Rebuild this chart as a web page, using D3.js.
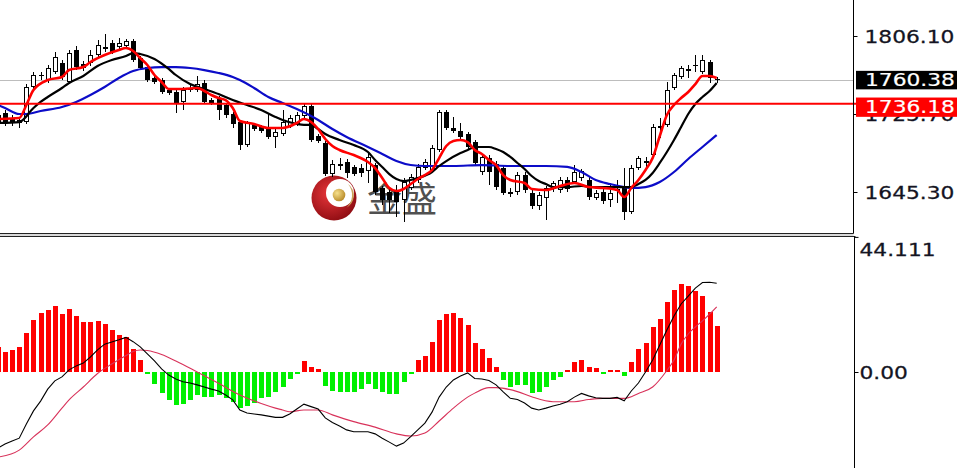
<!DOCTYPE html>
<html><head><meta charset="utf-8">
<script src="https://cdn.jsdelivr.net/npm/d3@7"></script>
<style>html,body{margin:0;padding:0;background:#fff;overflow:hidden}</style>
</head><body>
<script>
// ---------------- DATA ----------------
const priceTicks = [1806.10, 1725.70, 1645.30];
const lastPrice = 1760.38;
const levelPrice = 1736.18;
const macdTicks = [44.111, 0];

const open = [1724.7,1726.7,1721.6,1716.4,1717.4,1753.5,1764.9,1760.7,1769.0,1778.3,
1758.7,1791.7,1777.2,1778.3,1786.5,1792.7,1798.9,1794.8,1795.8,1800.9,
1783.4,1774.1,1762.8,1760.7,1750.4,1748.4,1738.1,1750.4,1750.4,1757.6,
1740.1,1742.2,1735.0,1725.7,1717.4,1693.7,1714.4,1712.3,1711.3,1702.0,
1705.1,1713.3,1715.4,1723.6,1733.9,1703.0,1695.8,1663.8,1672.1,1676.2,
1671.1,1670.0,1666.9,1673.1,1649.4,1645.3,1647.4,1637.0,1649.4,1657.7,
1670.0,1668.0,1688.6,1727.7,1711.3,1708.2,1705.1,1696.8,1665.9,1680.3,
1674.1,1670.0,1645.3,1645.3,1662.8,1644.3,1630.9,1639.1,1648.4,1647.4,
1657.7,1655.6,1659.7,1657.7,1639.1,1645.3,1637.0,1646.3,1649.4,1624.7,
1670.0,1677.2,1683.4,1711.3,1714.4,1752.5,1763.8,1770.0,1775.2,1769.0,
1779.3,1761.8];
const high = [1727.7,1729.8,1724.7,1722.6,1756.6,1769.0,1769.0,1776.2,1789.6,1781.4,
1791.7,1795.8,1780.3,1791.7,1802.0,1808.2,1802.0,1804.0,1803.0,1803.0,
1785.5,1776.2,1764.9,1762.8,1752.5,1750.4,1753.5,1755.6,1764.9,1760.7,
1742.2,1744.2,1737.0,1727.7,1719.5,1718.5,1716.4,1714.4,1726.7,1712.3,
1729.8,1724.7,1727.7,1737.0,1736.0,1705.1,1697.9,1678.3,1680.3,1679.3,
1673.1,1674.1,1686.5,1675.2,1651.5,1650.4,1652.5,1659.7,1663.8,1674.1,
1679.3,1693.7,1729.8,1729.8,1722.6,1716.4,1707.1,1698.9,1684.5,1683.4,
1677.2,1672.1,1649.4,1665.9,1665.9,1647.4,1645.3,1651.5,1656.6,1660.7,
1660.7,1673.1,1669.0,1660.7,1647.4,1648.4,1654.6,1657.7,1670.0,1673.1,
1682.4,1681.4,1715.4,1721.6,1758.7,1768.0,1775.2,1776.2,1786.5,1786.5,
1781.4,1763.8];
const low = [1714.4,1713.3,1713.3,1711.3,1715.4,1751.5,1760.7,1757.6,1766.9,1760.7,
1756.6,1771.0,1770.0,1775.2,1784.4,1789.6,1787.5,1792.7,1793.7,1779.3,
1771.0,1758.7,1756.6,1746.3,1745.3,1726.7,1729.8,1748.4,1748.4,1736.0,
1735.0,1719.5,1721.6,1711.3,1688.6,1691.7,1708.2,1706.1,1699.9,1690.6,
1703.0,1711.3,1713.3,1721.6,1696.8,1695.8,1661.8,1660.7,1668.0,1659.7,
1661.8,1660.7,1654.6,1642.2,1631.9,1623.6,1619.5,1614.4,1647.4,1654.6,
1668.0,1665.9,1686.5,1709.2,1706.1,1699.9,1688.6,1673.1,1662.8,1652.5,
1647.4,1642.2,1640.1,1642.2,1644.3,1627.8,1626.7,1616.4,1645.3,1644.3,
1645.3,1653.5,1656.6,1637.0,1637.0,1632.9,1629.8,1634.0,1616.4,1622.6,
1668.0,1671.1,1681.4,1700.9,1712.3,1750.4,1761.8,1762.8,1769.0,1766.9,
1757.6,1757.6];
const close = [1717.4,1716.4,1717.4,1719.5,1753.5,1765.9,1765.9,1773.1,1784.4,1763.8,
1788.6,1774.1,1773.1,1786.5,1796.8,1794.8,1789.6,1798.9,1800.9,1781.4,
1773.1,1760.7,1758.7,1748.4,1747.3,1737.0,1750.4,1752.5,1756.6,1738.1,
1737.0,1729.8,1724.7,1715.4,1693.7,1716.4,1710.2,1708.2,1702.0,1707.1,
1717.4,1721.6,1724.7,1733.9,1698.9,1697.9,1663.8,1674.1,1674.1,1664.9,
1663.8,1664.9,1681.4,1645.3,1637.0,1637.0,1635.0,1655.6,1660.7,1671.1,
1676.2,1690.6,1727.7,1711.3,1708.2,1702.0,1691.7,1675.2,1681.4,1665.9,
1650.4,1644.3,1643.2,1662.8,1647.4,1630.9,1642.2,1649.4,1654.6,1657.7,
1648.4,1665.9,1666.9,1640.1,1644.3,1636.0,1644.3,1648.4,1624.7,1670.0,
1680.3,1675.2,1712.3,1713.3,1750.4,1765.9,1773.1,1772.1,1776.2,1781.4,
1762.8,1760.38];

// moving averages (bar index, value)
const maFastIdx = [0,3,4,5,7,9,10,12,13,15,17,18,19,20,21,22,23,24,26,28,29,30,31,32,33,34,36,38,40,42,43,44,45,46,47,48,50,52,53,54,55,56,57,58,59,60,61,62,63,64,65,66,67,68,69,70,71,72,74,75,77,79,81,83,85,87,88,89,90,91,92,93,94,95,96,97,98,99,100,101];
const maFastVal = [1720.5,1721.6,1735.0,1750.4,1760.7,1763.8,1771.0,1774.1,1779.3,1786.5,1791.7,1793.7,1790.6,1783.4,1776.2,1765.9,1758.7,1751.5,1751.5,1752.5,1749.4,1745.3,1742.2,1740.1,1731.9,1718.5,1715.4,1711.3,1711.3,1716.4,1720.5,1717.4,1710.2,1699.9,1692.7,1688.6,1683.4,1676.2,1670.0,1659.7,1649.4,1646.3,1648.4,1653.5,1658.7,1662.8,1668.0,1680.3,1692.7,1697.9,1698.9,1696.8,1688.6,1684.5,1678.3,1673.1,1662.8,1657.7,1654.6,1648.4,1647.4,1651.5,1654.6,1650.4,1649.4,1647.4,1640.1,1649.4,1657.7,1668.0,1680.3,1703.0,1724.7,1735.0,1742.2,1748.4,1756.6,1764.9,1764.9,1762.8];
const maMidIdx = [0,3,5,6,7,9,10,12,14,16,18,19,20,22,24,25,27,29,31,33,35,37,39,40,42,43,44,45,46,48,50,52,53,54,55,56,57,58,59,61,62,63,65,66,67,69,70,71,72,73,74,75,76,77,78,80,82,84,86,88,89,90,91,92,93,94,95,96,97,98,99,100,101];
const maMidVal = [1716.4,1717.4,1731.9,1738.1,1743.2,1752.5,1757.6,1764.9,1775.2,1781.4,1785.5,1788.6,1787.5,1782.4,1772.1,1765.9,1756.6,1751.5,1746.3,1740.1,1735.0,1729.8,1722.6,1719.5,1715.4,1714.4,1714.4,1710.2,1705.1,1698.9,1693.7,1686.5,1678.3,1671.1,1663.8,1658.7,1656.6,1657.7,1659.7,1665.9,1672.1,1677.2,1685.5,1688.6,1691.7,1691.7,1689.6,1686.5,1681.4,1675.2,1669.0,1661.8,1656.6,1653.5,1650.4,1650.4,1651.5,1650.4,1650.4,1650.4,1650.4,1653.5,1657.7,1664.9,1675.2,1686.5,1698.9,1712.3,1725.7,1736.0,1743.2,1749.4,1757.6];
const maSlowIdx = [0,1,3,4,6,9,11,13,15,17,19,21,23,25,27,29,31,33,34,36,38,40,42,44,45,47,49,52,54,56,58,60,64,68,72,77,80,82,84,86,88,89,91,93,95,97,99,101];
const maSlowVal = [1735.0,1731.9,1725.7,1725.7,1728.8,1732.9,1738.1,1745.3,1753.5,1762.8,1770.0,1773.1,1774.1,1774.1,1773.1,1771.0,1768.0,1763.8,1760.7,1752.5,1743.2,1737.0,1730.8,1723.6,1719.5,1710.2,1702.0,1691.7,1684.5,1677.2,1673.1,1672.1,1672.1,1673.1,1672.1,1672.1,1671.1,1665.9,1657.7,1653.5,1650.4,1649.4,1650.4,1655.6,1665.9,1679.3,1691.7,1704.0];

// MACD panel
const macdHist = [8.2,6.6,7.2,8.1,12.6,17.0,19.2,20.2,21.6,18.8,
20.5,18.3,16.2,16.2,16.7,15.6,13.7,12.1,11.3,7.5,
3.9,-0.7,-3.9,-7.0,-9.1,-10.8,-10.5,-9.1,-7.5,-8.1,
-8.1,-7.5,-8.6,-9.7,-11.9,-11.1,-10.0,-8.6,-8.1,-6.4,
-4.8,-2.3,-0.7,3.6,1.7,0.9,-4.5,-6.1,-6.4,-6.4,
-6.4,-5.6,-3.9,-5.6,-6.4,-7.2,-7.2,-3.4,-0.3,3.9,
5.2,9.9,17.0,18.9,19.4,17.7,15.3,9.4,7.5,4.5,
1.7,-2.6,-5.0,-4.2,-4.2,-6.8,-6.4,-4.8,-2.6,-1.5,
0.7,3.2,3.9,1.7,1.2,-0.2,0.7,0.3,-1.3,3.2,
7.5,9.4,14.6,17.2,22.8,26.8,28.7,28.2,26.5,24.8,
19.7,15.0];
const macdMain = [-24.8,-23.5,-22.5,-21.6,-17.0,-12.7,-9.5,-5.6,-2.9,-1.6,
0.7,2.0,2.9,4.9,7.2,9.1,9.8,10.5,11.3,9.9,
8.2,5.9,3.6,1.0,-1.0,-2.3,-3.2,-3.6,-4.2,-4.9,
-5.6,-6.2,-7.5,-9.1,-12.4,-13.4,-13.7,-14.0,-14.4,-14.8,
-14.8,-13.7,-12.1,-10.5,-11.3,-12.1,-15.0,-16.5,-17.6,-18.9,
-19.5,-19.5,-19.5,-20.2,-21.6,-22.9,-24.2,-23.2,-21.1,-18.9,
-16.7,-13.1,-8.2,-4.9,-2.6,-1.3,-0.3,-2.1,-2.3,-2.8,
-4.2,-6.5,-8.6,-9.0,-10.1,-11.8,-12.4,-11.8,-11.1,-10.5,
-9.7,-8.2,-7.0,-7.8,-8.4,-8.6,-8.6,-8.3,-9.4,-6.2,
-3.6,0.0,3.9,8.8,13.7,18.3,22.2,24.8,27.4,29.2,
29.3,29.0];
const signalIdx = [0,3,5,7,9,10,12,14,16,18,19,20,21,23,25,28,31,34,37,39,40,41,43,45,47,50,53,56,58,60,62,64,66,67,69,70,73,75,78,81,83,85,88,90,92,94,95,96,97,98,99,100,101];
const signalVal = [-27.8,-25.5,-21.2,-17.3,-11.8,-9.1,-4.9,-0.5,2.6,5.4,6.7,7.2,7.0,5.7,3.6,0,-3.7,-7.5,-10.3,-11.8,-12.4,-13.0,-12.4,-12.4,-14.0,-16.2,-18.0,-20.2,-20.9,-19.9,-16.0,-11.8,-8.2,-6.9,-5.1,-5.1,-6.4,-8.1,-9.7,-9.7,-9.0,-8.6,-8.6,-7.0,-4.9,0.5,3.9,9.1,12.4,14.7,16.7,18.9,21.3];

// ---------------- DRAW ----------------
const W = 957, H = 468;
const AX = 853.5, AX2 = 854.5;
const FONT = "'DejaVu Sans', Verdana, sans-serif";
const svg = d3.select("body").append("svg").attr("width", W).attr("height", H)
  .style("display","block").style("font-family", FONT);

const defs = svg.append("defs");
defs.append("clipPath").attr("id","clipMain").append("rect").attr("x",0).attr("y",0).attr("width",AX).attr("height",233);
defs.append("clipPath").attr("id","clipMacd").append("rect").attr("x",0).attr("y",238).attr("width",AX2).attr("height",H-238);
const rg = defs.append("radialGradient").attr("id","redG").attr("cx","40%").attr("cy","40%").attr("r","65%");
rg.append("stop").attr("offset","0%").attr("stop-color","#e8363a");
rg.append("stop").attr("offset","100%").attr("stop-color","#8e0c12");
const gg = defs.append("radialGradient").attr("id","goldG").attr("cx","35%").attr("cy","35%").attr("r","70%");
gg.append("stop").attr("offset","0%").attr("stop-color","#f6e08c");
gg.append("stop").attr("offset","100%").attr("stop-color","#b88a28");

const N = open.length;
const x = d3.scaleLinear().domain([0, N - 1]).range([-2.1, 716.7]);
const yP = d3.scaleLinear().domain([priceTicks[2], priceTicks[0]]).range([192, 36]);
const yM = d3.scaleLinear().domain([0, macdTicks[0]]).range([372, 236.9]);

// ---- main panel ----
const main = svg.append("g").attr("clip-path","url(#clipMain)");

// watermark logo
const logo = main.append("g").attr("transform","translate(334,198)");
logo.append("circle").attr("r",22.5).attr("fill","url(#redG)");
logo.append("circle").attr("cx",6).attr("cy",-5).attr("r",14).attr("fill","#fff");
logo.append("path").attr("d","M 14 -14 A 14 14 0 0 1 12 10 A 17 17 0 0 0 14 -14 Z").attr("fill","#c9a25a");
logo.append("circle").attr("cx",5).attr("cy",-3).attr("r",6.3).attr("fill","url(#goldG)");
main.append("text").attr("x",367).attr("y",212).text("金盛")
  .attr("font-family","'Noto Sans CJK SC', sans-serif").attr("font-size",35).attr("fill","#505050");

// horizontal reference line at last price
main.append("line").attr("x1",0).attr("x2",AX).attr("y1",Math.round(yP(lastPrice))+0.5).attr("y2",Math.round(yP(lastPrice))+0.5)
  .attr("stroke","#bdbdbd").attr("stroke-width",1);

// candles
const cg = main.append("g");
d3.range(N).forEach(i => {
  const xc = Math.round(x(i));
  const o = open[i], c = close[i];
  cg.append("line").attr("x1",xc+0.5).attr("x2",xc+0.5)
    .attr("y1",Math.round(yP(high[i]))).attr("y2",Math.round(yP(low[i])))
    .attr("stroke","#000").attr("stroke-width",1);
  const top = Math.round(yP(Math.max(o,c))), bot = Math.round(yP(Math.min(o,c)));
  if (bot - top < 2) {
    cg.append("line").attr("x1",xc-2).attr("x2",xc+3).attr("y1",top+0.5).attr("y2",top+0.5)
      .attr("stroke","#000").attr("stroke-width",1);
  } else if (c >= o) {
    cg.append("rect").attr("x",xc-1.5).attr("y",top+0.5).attr("width",4).attr("height",bot-top-1)
      .attr("fill","#fff").attr("stroke","#000").attr("stroke-width",1);
  } else {
    cg.append("rect").attr("x",xc-2).attr("y",top).attr("width",5).attr("height",bot-top).attr("fill","#000");
  }
});

// moving averages
const lineP = d3.line().x(d => x(d[0])).y(d => yP(d[1])).curve(d3.curveMonotoneX);
const zipper = (a, b) => a.map((v, k) => [v, b[k]]);
main.append("path").attr("d", lineP(zipper(maSlowIdx, maSlowVal))).attr("fill","none").attr("stroke","#0c0cc8").attr("stroke-width",2.2);
main.append("path").attr("d", lineP(zipper(maMidIdx, maMidVal))).attr("fill","none").attr("stroke","#000").attr("stroke-width",2.2);
main.append("path").attr("d", lineP(zipper(maFastIdx, maFastVal))).attr("fill","none").attr("stroke","#ff0000").attr("stroke-width",2.6);

// red level line
svg.append("line").attr("x1",0).attr("x2",858).attr("y1",yP(levelPrice)).attr("y2",yP(levelPrice))
  .attr("stroke","#ff0000").attr("stroke-width",2);

// ---- panel separators ----
svg.append("rect").attr("x",0).attr("y",234).attr("width",AX).attr("height",2.5).attr("fill","#d8d8d8");
svg.append("line").attr("x1",0).attr("x2",AX).attr("y1",233.5).attr("y2",233.5).attr("stroke","#222");
svg.append("line").attr("x1",0).attr("x2",AX2+1).attr("y1",236.5).attr("y2",236.5).attr("stroke","#222");

// price axis
const SX = 1.28;
const pAxis = svg.append("g").attr("transform",`translate(${AX},0)`)
  .call(d3.axisRight(yP).tickValues(priceTicks).tickFormat(d3.format(".2f")).tickSize(4).tickSizeOuter(0))
  .attr("font-family", FONT).attr("font-size", 17);
pAxis.select(".domain").attr("d","M0,0V233.5").attr("stroke","#000");
pAxis.selectAll(".tick line").attr("stroke","#000");
pAxis.selectAll(".tick text").attr("x", 11/SX).attr("dy","0.36em")
  .attr("transform",`scale(${SX},1)`).attr("fill","#141422").attr("text-anchor","start")
  .attr("stroke","#141422").attr("stroke-width",0.25);

// price labels
function priceBox(v, y0, y1, bg) {
  svg.append("rect").attr("x",856).attr("y",y0).attr("width",W-856).attr("height",y1-y0).attr("fill",bg);
  svg.append("text").attr("transform",`translate(865,${(y0+y1)/2}) scale(${SX},1)`).attr("dy","0.36em")
    .attr("font-size",17).attr("fill","#fff").attr("stroke","#fff").attr("stroke-width",0.2).text(d3.format(".2f")(v));
}
priceBox(lastPrice, yP(lastPrice) - 9.5, yP(lastPrice) + 9, "#000");
priceBox(levelPrice, yP(levelPrice) - 6.3, yP(levelPrice) + 13, "#ff0000");

// ---- MACD panel ----
const mg = svg.append("g").attr("clip-path","url(#clipMacd)");
d3.range(N).forEach(i => {
  const v = macdHist[i];
  const xc = Math.round(x(i));
  let y0 = Math.round(yM(Math.max(v,0))), y1 = Math.round(yM(Math.min(v,0)));
  if (y1 - y0 < 2) { if (v >= 0) y0 = y1 - 2; else y1 = y0 + 2; }
  mg.append("rect").attr("x",xc-2).attr("y",y0).attr("width",5).attr("height",y1-y0)
    .attr("fill", v >= 0 ? "#ff0000" : "#00f000");
});
mg.append("path").attr("d", d3.line().x(d => x(d[0])).y(d => yM(d[1])).curve(d3.curveMonotoneX)(zipper(signalIdx, signalVal)))
  .attr("fill","none").attr("stroke","#d8325a").attr("stroke-width",1.1);
mg.append("path").attr("d", d3.line().x((d,i) => x(i)).y(d => yM(d))(macdMain))
  .attr("fill","none").attr("stroke","#000").attr("stroke-width",1.1);

const mAxis = svg.append("g").attr("transform",`translate(${AX2},0)`)
  .call(d3.axisRight(yM).tickValues(macdTicks).tickFormat(d => d === 0 ? "0.00" : d3.format(".3f")(d)).tickSize(4).tickSizeOuter(0))
  .attr("font-family", FONT).attr("font-size", 17);
mAxis.select(".domain").attr("d",`M0,236.5V${H}`).attr("stroke","#000");
mAxis.selectAll(".tick line").attr("stroke","#000");
mAxis.selectAll(".tick text").attr("x", 5/SX).attr("dy", d => d === 0 ? "0.36em" : "1.1em")
  .attr("transform",`scale(${SX},1)`).attr("fill","#141422").attr("text-anchor","start")
  .attr("stroke","#141422").attr("stroke-width",0.25);
</script>
</body></html>
